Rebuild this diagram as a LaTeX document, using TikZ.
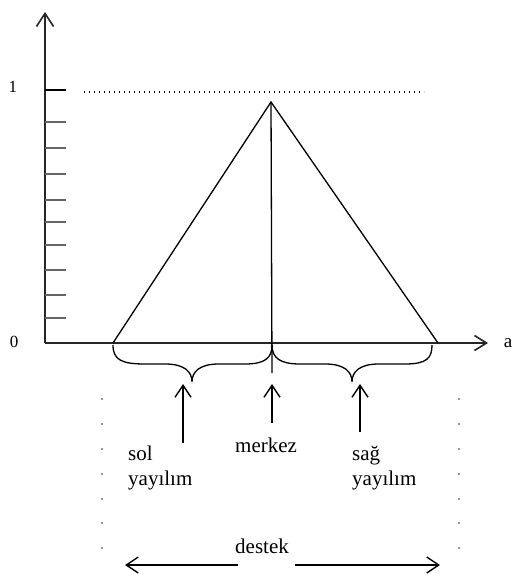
\documentclass[tikz,border=0pt]{standalone}
\usepackage{fontspec}
\setmainfont{Liberation Serif}
\usetikzlibrary{arrows.meta}
\tikzset{
  axisline/.style={line width=1.7pt, draw=black!85},
  thinline/.style={line width=1.3pt, draw=black},
  upar/.style={line width=1.4pt, -{Straight Barb[length=12pt,width=16pt,line width=1.4pt]}},
  tickmark/.style={line width=1.4pt, draw=black!60},
  lbl/.style={font=\fontsize{21}{25}\selectfont, inner sep=0pt, anchor=base west},
  axlbl/.style={font=\fontsize{17}{20}\selectfont, inner sep=0pt, anchor=base},
  dotmark/.style={fill=black!55, draw=none},
}
\begin{document}
\begin{tikzpicture}[x=1pt,y=-1pt]
\useasboundingbox (0,0) rectangle (512,580);
% axes
\coordinate (O) at (45,343);
\coordinate (ytop) at (45,12);
\coordinate (xend) at (488,343);
\draw[axisline, -{Straight Barb[length=13pt,width=17pt,line width=1.6pt]}] (O) -- (ytop);
\draw[axisline, -{Straight Barb[length=12pt,width=15pt,line width=1.6pt]}] (O) -- (xend);
\node[axlbl] (one) at (13,93) {1};
\node[axlbl] (zero) at (14,347) {0};
\node[axlbl, font=\fontsize{19}{22}\selectfont] (alab) at (508,347) {a};
% ticks
\draw[line width=1.6pt] (45,90) -- (66,90);
\foreach \yy in {122,148,174,200,222,245,270,295,318}{
  \draw[tickmark] (45,\yy) -- (66,\yy);
}
% dotted line at 1
\draw[line width=1.3pt, dash pattern=on 1.3pt off 3.7pt] (84,92) -- (424,92);
% triangle
\coordinate (L) at (113,343);
\coordinate (A) at (271,102);
\coordinate (R) at (438,343);
\coordinate (C) at (272,373);
\draw[thinline, line join=miter] (L) -- (A) -- (R);
\draw[thinline] (A) -- (C);
% braces
\draw[thinline] (113,345) .. controls (113,360) and (122,364) .. (145,364)
  -- (165,364) .. controls (185,364) and (192,372) .. (192,382)
  .. controls (192,372) and (199,364) .. (219,364)
  -- (245,364) .. controls (265,364) and (272,358) .. (272,345);
\draw[thinline] (272,345) .. controls (272,358) and (280,364) .. (300,364)
  -- (325,364) .. controls (345,364) and (352,372) .. (352,382)
  .. controls (352,372) and (359,364) .. (379,364)
  -- (405,364) .. controls (427,364) and (432,358) .. (432,345);
% up arrows
\coordinate (la0) at (183,443); \coordinate (la1) at (183,384);
\coordinate (ca0) at (272,423); \coordinate (ca1) at (272,384);
\coordinate (ra0) at (360,432); \coordinate (ra1) at (360,384);
\draw[upar] (la0) -- (la1);
\draw[upar] (ca0) -- (ca1);
\draw[upar] (ra0) -- (ra1);
% labels
\node[lbl] (sol) at (128,460) {sol};
\node[lbl] (soly) at (128,485) {yayılım};
\node[lbl] (merkez) at (235,452) {merkez};
\node[lbl] (sag) at (352,460) {sağ};
\node[lbl] (sagy) at (352,485) {yayılım};
\node[lbl] (destek) at (235,553) {destek};
% destek arrows
\coordinate (dl0) at (238,565); \coordinate (dl1) at (125,565);
\coordinate (dr0) at (295,565); \coordinate (dr1) at (440,565);
\draw[upar] (dl0) -- (dl1);
\draw[upar] (dr0) -- (dr1);
% dotted verticals
\foreach \yy in {399,424,449,474,499,523,548}{
  \fill[dotmark] (102,\yy) circle (1.2);
  \fill[dotmark] (459,\yy) circle (1.2);
}
\end{tikzpicture}
\end{document}
